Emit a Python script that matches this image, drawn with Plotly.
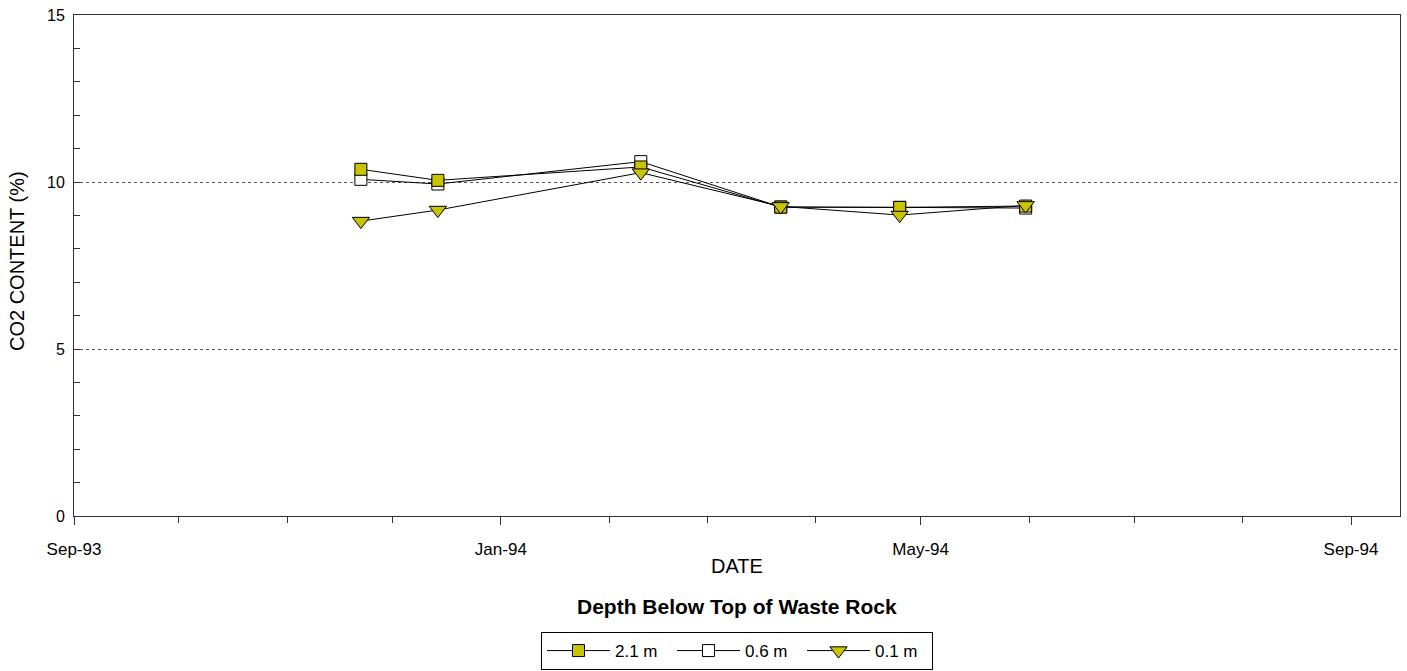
import plotly.graph_objects as go

dates = ["1993-11-22", "1993-12-14", "1994-02-10", "1994-03-22", "1994-04-25", "1994-05-31"]
co2_21m = [10.38, 10.05, 10.45, 9.25, 9.24, 9.28]
co2_06m = [10.08, 9.94, 10.61, 9.25, 9.24, 9.22]
co2_01m = [8.83, 9.16, 10.28, 9.27, 9.01, 9.30]

x_tick_vals = ["1993-09-01", "1994-01-01", "1994-05-01", "1994-09-01"]
x_tick_text = ["Sep-93", "Jan-94", "May-94", "Sep-94"]
y_tick_vals = [0, 5, 10, 15]

OLIVE = "#C8C400"
AXIS = "#333333"
FONT = "Liberation Sans, Arial, sans-serif"

fig = go.Figure()
fig.add_trace(go.Scatter(
    x=dates, y=co2_06m, name="0.6 m", mode="lines+markers", legendrank=2,
    line=dict(color="black", width=1),
    marker=dict(symbol="square", size=12, color="white", line=dict(color="black", width=1)),
))
fig.add_trace(go.Scatter(
    x=dates, y=co2_21m, name="2.1 m", mode="lines+markers", legendrank=1,
    line=dict(color="black", width=1),
    marker=dict(symbol="square", size=12, color=OLIVE, line=dict(color="black", width=1)),
))
fig.add_trace(go.Scatter(
    x=dates, y=co2_01m, name="0.1 m", mode="lines+markers", legendrank=3,
    line=dict(color="black", width=1),
    marker=dict(symbol="triangle-down", size=15, color=OLIVE, line=dict(color="black", width=1)),
))

fig.update_layout(
    width=1407, height=671,
    margin=dict(l=74, r=7, t=15, b=155, autoexpand=False),
    paper_bgcolor="white", plot_bgcolor="white",
    font=dict(family=FONT, size=16, color="black"),
    showlegend=True,
    legend=dict(
        orientation="h", x=0.5, xanchor="center", y=-0.2695, yanchor="middle",
        bordercolor="black", borderwidth=1, bgcolor="white",
        font=dict(size=17), itemwidth=63, entrywidth=52, entrywidthmode="pixels",
        traceorder="normal",
    ),
    xaxis=dict(
        type="date", range=["1993-09-01", "1994-09-15"],
        tickvals=x_tick_vals, ticktext=x_tick_text,
        ticks="outside", ticklen=8, tickcolor=AXIS, tickwidth=1,
        minor=dict(dtick="M1", tick0="1993-09-01", ticks="outside", ticklen=6,
                   tickcolor=AXIS, showgrid=False),
        showline=True, linecolor=AXIS, linewidth=1, mirror=True,
        showgrid=False, zeroline=False,
        tickfont=dict(size=17), ticklabelstandoff=10,
    ),
    yaxis=dict(
        range=[0, 15], tickvals=y_tick_vals,
        ticks="inside", ticklen=6, tickcolor=AXIS,
        minor=dict(dtick=1, ticks="inside", ticklen=6, tickcolor=AXIS, showgrid=False),
        showline=True, linecolor=AXIS, linewidth=1, mirror=True,
        showgrid=True, gridcolor="#555555", griddash="dot", gridwidth=1,
        zeroline=False, tickfont=dict(size=16), ticklabelstandoff=5,
    ),
    annotations=[
        dict(text="DATE", x=0.5, y=-0.0998, xref="paper", yref="paper",
             showarrow=False, font=dict(size=20), xanchor="center", yanchor="middle"),
        dict(text="<b>Depth Below Top of Waste Rock</b>", x=0.5, y=-0.1816,
             xref="paper", yref="paper", showarrow=False, font=dict(size=21),
             xanchor="center", yanchor="middle"),
        dict(text="CO2 CONTENT (%)", x=-0.0426, y=0.508, xref="paper", yref="paper",
             showarrow=False, textangle=-90, font=dict(size=20),
             xanchor="center", yanchor="middle"),
    ],
)

fig.write_html(
    "out.html",
    config={"displayModeBar": False},
    post_script="document.body.style.margin='0';document.body.style.padding='0';"
                "document.body.style.overflow='hidden';",
)
